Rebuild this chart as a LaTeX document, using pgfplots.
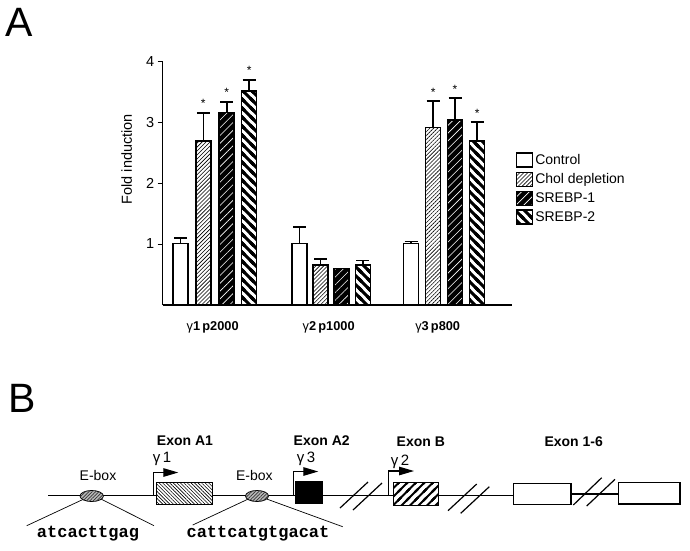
\documentclass[border=0pt]{standalone}
\usepackage{fontspec}
\setmainfont{Liberation Sans}
\setmonofont{Liberation Mono}
\usepackage{pgfplots}
\pgfplotsset{compat=1.18}
\usetikzlibrary{patterns, patterns.meta, arrows.meta}

\newcommand{\myfs}[1]{\fontsize{#1}{#1}\selectfont}

% thick "\" stripes, vertical pitch 9pt
\pgfdeclarepatternformonly{thickback}{\pgfqpoint{-2pt}{-2pt}}{\pgfqpoint{11pt}{11pt}}{\pgfqpoint{9pt}{9pt}}{
  \pgfsetlinewidth{2.9pt}
  \pgfpathmoveto{\pgfqpoint{-2pt}{11pt}}\pgfpathlineto{\pgfqpoint{11pt}{-2pt}}
  \pgfpathmoveto{\pgfqpoint{-2pt}{2pt}}\pgfpathlineto{\pgfqpoint{2pt}{-2pt}}
  \pgfpathmoveto{\pgfqpoint{7pt}{11pt}}\pgfpathlineto{\pgfqpoint{11pt}{7pt}}
  \pgfusepath{stroke}
}
% thick "/" stripes, vertical pitch 8.5pt
\pgfdeclarepatternformonly{thickfwd}{\pgfqpoint{-2pt}{-2pt}}{\pgfqpoint{10.5pt}{10.5pt}}{\pgfqpoint{8.5pt}{8.5pt}}{
  \pgfsetlinewidth{2pt}
  \pgfpathmoveto{\pgfqpoint{-2pt}{-2pt}}\pgfpathlineto{\pgfqpoint{10.5pt}{10.5pt}}
  \pgfpathmoveto{\pgfqpoint{-2pt}{6.5pt}}\pgfpathlineto{\pgfqpoint{2pt}{10.5pt}}
  \pgfpathmoveto{\pgfqpoint{6.5pt}{-2pt}}\pgfpathlineto{\pgfqpoint{10.5pt}{2pt}}
  \pgfusepath{stroke}
}

\tikzset{
  pchol/.style={pattern color=black, pattern={Lines[angle=45,distance=2.8pt,line width=0.6pt]}},
  ps1/.style={fill=black, postaction={pattern color=white, pattern={Lines[angle=45,distance=5.5pt,line width=0.6pt]}}},
  ps2/.style={pattern color=black, pattern=thickback},
}
\pgfplotsset{myerr/.style={
  error bars/y dir=plus, error bars/y explicit,
  error bars/error bar style={line width=1.6pt, black},
  error bars/error mark options={rotate=90, line width=1.6pt, mark size=6.5pt, black}}}

\begin{document}
\begin{tikzpicture}
\path[use as bounding box] (0,0) rectangle (690pt,-550pt);

\begin{axis}[
  at={(162.7pt,-305pt)}, anchor=south west,
  scale only axis, width=349pt, height=244pt,
  xmin=0, xmax=349, ymin=0, ymax=4,
  axis lines*=left,
  axis line style={line width=1.3pt},
  ybar,
  legend image code/.code={\draw[#1, line width=1.2pt] (0pt,-7pt) rectangle (16pt,7pt);},
  ytick={1,2,3,4},
  tick align=outside,
  major tick length=5pt,
  ytick style={line width=1pt, black},
  xtick={50,166,275},
  xticklabels={{γ\textbf{1\,p2000}},{γ\textbf{2\,p1000}},{γ\textbf{3\,p800}}},
  xtick style={draw=none},
  /pgf/number format/assume math mode=true,
  yticklabel style={font=\fontsize{14.5}{16}\selectfont},
  xticklabel style={yshift=-8pt, font=\fontsize{12.8}{16}\selectfont},
  ylabel={Fold induction},
  every axis y label/.style={at={(axis description cs:-0.103,0.598)}, rotate=90, anchor=center, font=\fontsize{14.5}{16}\selectfont},
  legend style={at={(axis description cs:1.012,0.627)}, anchor=north west, draw=none, fill=none, inner sep=0pt, font=\fontsize{14}{16}\selectfont, row sep=3.5pt},
  legend cell align=left,
  clip=false,
]
\addplot[draw=black, fill=white, line width=1.5pt, bar width=15, bar shift=0pt, myerr]
  coordinates {(17.8,1.01) +- (0,0.09) (136.8,1.01) +- (0,0.27) (248.5,1.01) +- (0,0.03)};
\addplot[draw=black, pchol, line width=1.5pt, bar width=15, bar shift=0pt, myerr]
  coordinates {(40.6,2.69) +- (0,0.46) (157.8,0.66) +- (0,0.09) (270.5,2.91) +- (0,0.43)};
\addplot[draw=black, ps1, line width=1.5pt, bar width=15, bar shift=0pt, myerr]
  coordinates {(64,3.16) +- (0,0.17) (178.6,0.60) +- (0,0) (292.3,3.03) +- (0,0.36)};
\addplot[draw=black, ps2, line width=1.5pt, bar width=15, bar shift=0pt, myerr]
  coordinates {(86.5,3.51) +- (0,0.18) (200.1,0.66) +- (0,0.07) (314.5,2.69) +- (0,0.31)};
\legend{Control, Chol depletion, SREBP-1, SREBP-2}
\foreach \xx/\yy in {40.6/3.15, 64/3.33, 86.5/3.69, 270.5/3.34, 292.3/3.39, 314.5/3.00}{
  \edef\tmp{\noexpand\node[font=\noexpand\fontsize{12}{12}\noexpand\selectfont, anchor=base, yshift=5pt, inner sep=0pt] at (axis cs:\xx,\yy) {*};}
  \tmp
}
\end{axis}

\begin{scope}[x=1pt, y=-1pt]
\node[font=\myfs{41}] at (19,22) {A};
\node[font=\myfs{41}] at (22.5,398.3) {B};

% main line
\draw[line width=1.2pt] (48,495.5) -- (513.3,495.5);
\draw[line width=1.2pt] (571,494) -- (618.3,494);
% breaks
\draw[line width=1.2pt] (340,508) -- (368,482);
\draw[line width=1.2pt] (353,510) -- (382,483);
\draw[line width=1.2pt] (448,510.7) -- (476.7,484);
\draw[line width=1.2pt] (460.7,513.3) -- (489.3,486.7);
\draw[line width=1.2pt] (573.3,505) -- (601.7,477.7);
\draw[line width=1.2pt] (586.7,506) -- (615,479.3);

% sequence lines
\draw[line width=0.7pt] (85,498.5) -- (26.7,525.7);
\draw[line width=0.7pt] (100,498.5) -- (154,525.7);
\draw[line width=0.7pt] (248.3,499) -- (192.7,525);
\draw[line width=0.7pt] (266.7,499) -- (342.7,526.7);

% E-boxes
\draw[line width=0.8pt, fill=gray!55, postaction={pattern color=black!80, pattern={Lines[angle=45,distance=2.4pt,line width=0.7pt]}}]
  (91.7,496) ellipse [x radius=11.7, y radius=5.5];
\draw[line width=0.8pt, fill=gray!55, postaction={pattern color=black!80, pattern={Lines[angle=45,distance=2.4pt,line width=0.7pt]}}]
  (257,496) ellipse [x radius=11.5, y radius=5.5];

% exons
\draw[line width=1.2pt, fill=white, postaction={pattern color=black, pattern={Lines[angle=-45,distance=2.5pt,line width=0.6pt]}}]
  (156.5,482.5) rectangle (212.5,504.5);
\draw[line width=1.2pt, fill=black] (295.7,481.7) rectangle (322,503.3);
\draw[line width=1.2pt, fill=white, postaction={pattern color=black, pattern=thickfwd}]
  (393.3,482.7) rectangle (438.3,505.3);
\draw[line width=1.2pt, fill=white] (513.3,483.3) rectangle (571,504.3);
\draw[line width=1.2pt, fill=white] (618.3,482.7) rectangle (680,504);

% promoter arrows
\draw[line width=1.2pt, -{Triangle[length=15pt,width=8.5pt]}] (153.3,495.5) -- (153.3,472.5) -- (178.3,472.5);
\draw[line width=1.2pt, -{Triangle[length=15pt,width=8.5pt]}] (293.3,495.5) -- (293.3,471.5) -- (318.3,471.5);
\draw[line width=1.2pt, -{Triangle[length=15pt,width=8.5pt]}] (388.3,495.5) -- (388.3,471) -- (414,471);

% labels
\node[font=\myfs{14}] at (98,475) {E-box};
\node[font=\myfs{14}] at (254.3,475) {E-box};
\node[font=\myfs{15}, anchor=base] at (162,462.3) {γ\,1};
\node[font=\myfs{15}, anchor=base] at (306,462.3) {γ\,3};
\node[font=\myfs{15}, anchor=base] at (400,465) {γ\,2};
\node[font=\bfseries\myfs{14}, anchor=base] at (185,445) {Exon A1};
\node[font=\bfseries\myfs{14}, anchor=base] at (321.7,445) {Exon A2};
\node[font=\bfseries\myfs{14}, anchor=base] at (420.8,446) {Exon B};
\node[font=\bfseries\myfs{14}, anchor=base] at (573.7,446) {Exon 1-6};
\node[font=\ttfamily\bfseries\myfs{17}, anchor=base] at (88,537) {atcacttgag};
\node[font=\ttfamily\bfseries\myfs{17}, anchor=base] at (258,537) {cattcatgtgacat};
\end{scope}
\end{tikzpicture}
\end{document}
